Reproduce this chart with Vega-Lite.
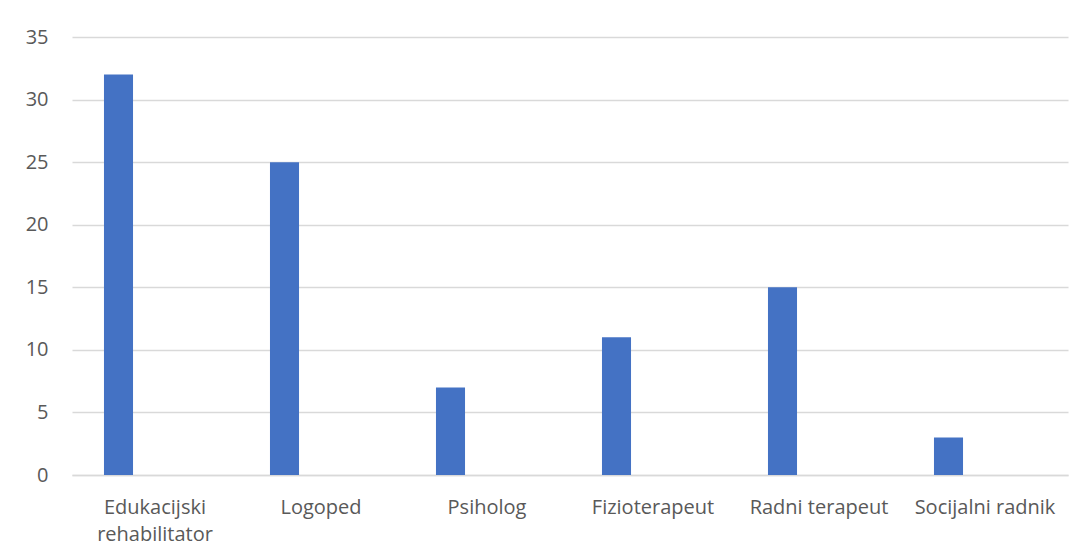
{
  "$schema": "https://vega.github.io/schema/vega-lite/v6.json",
  "autosize": "none",
  "width": 996,
  "height": 438,
  "padding": {"left": 72, "top": 37, "right": 16, "bottom": 85},
  "background": "white",
  "data": {
    "values": [
      {"zanimanje": "Edukacijski rehabilitator", "broj": 32},
      {"zanimanje": "Logoped", "broj": 25},
      {"zanimanje": "Psiholog", "broj": 7},
      {"zanimanje": "Fizioterapeut", "broj": 11},
      {"zanimanje": "Radni terapeut", "broj": 15},
      {"zanimanje": "Socijalni radnik", "broj": 3}
    ]
  },
  "mark": {"type": "bar", "color": "#4472C4", "width": {"band": 0.175}, "xOffset": -36.5},
  "encoding": {
    "x": {
      "field": "zanimanje",
      "type": "nominal",
      "sort": null,
      "scale": {"paddingInner": 0, "paddingOuter": 0},
      "axis": {
        "title": null,
        "labelAngle": 0,
        "labelFont": "Open Sans",
        "labelFontSize": 20,
        "labelColor": "#595959",
        "labelPadding": 22,
        "labelLineHeight": 27,
        "labelBaseline": "top",
        "ticks": false,
        "domainColor": "#d9d9d9",
        "domainWidth": 1.5,
        "labelExpr": "datum.label == 'Edukacijski rehabilitator' ? ['Edukacijski', 'rehabilitator'] : datum.label"
      }
    },
    "y": {
      "field": "broj",
      "type": "quantitative",
      "scale": {"domain": [0, 35]},
      "axis": {
        "title": null,
        "values": [0, 5, 10, 15, 20, 25, 30, 35],
        "labelFont": "Open Sans",
        "labelFontSize": 20,
        "labelColor": "#595959",
        "labelPadding": 24,
        "ticks": false,
        "domain": false,
        "gridColor": "#d9d9d9",
        "gridWidth": 1.5
      }
    }
  },
  "config": {"view": {"stroke": null}}
}
